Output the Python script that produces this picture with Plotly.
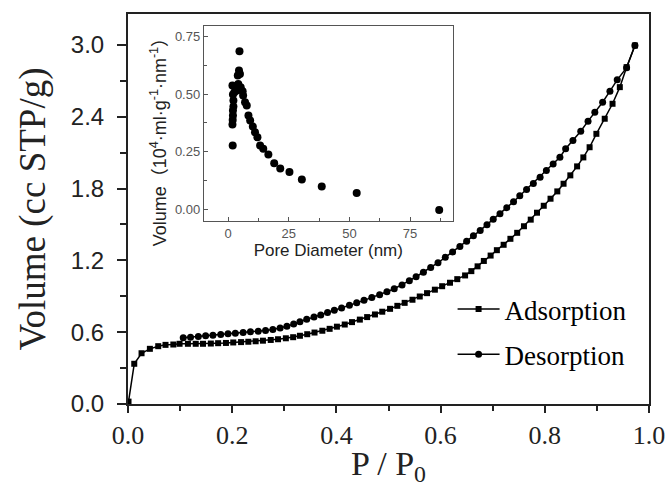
import plotly.graph_objects as go

# ---- main isotherm data (P/P0, volume cc STP/g) ----
ads_x = [0.001, 0.012, 0.026, 0.042, 0.058, 0.072, 0.087, 0.099, 0.115, 0.130, 0.144, 0.159,
         0.173, 0.188, 0.202, 0.217, 0.231, 0.245, 0.259, 0.274, 0.288, 0.303, 0.317, 0.330,
         0.344, 0.358, 0.373, 0.387, 0.401, 0.416, 0.430, 0.445, 0.459, 0.474, 0.488, 0.503,
         0.517, 0.531, 0.546, 0.560, 0.574, 0.589, 0.603, 0.618, 0.632, 0.647, 0.659, 0.671,
         0.683, 0.696, 0.708, 0.721, 0.734, 0.747, 0.760, 0.773, 0.785, 0.798, 0.811, 0.824,
         0.836, 0.849, 0.862, 0.874, 0.886, 0.899, 0.915, 0.930, 0.944, 0.957, 0.973]
ads_y = [0.02, 0.336, 0.424, 0.461, 0.483, 0.494, 0.497, 0.503, 0.503, 0.503, 0.503, 0.505,
         0.508, 0.510, 0.514, 0.517, 0.520, 0.524, 0.529, 0.535, 0.541, 0.549, 0.558, 0.570,
         0.583, 0.597, 0.612, 0.628, 0.646, 0.664, 0.684, 0.705, 0.726, 0.748, 0.771, 0.795,
         0.820, 0.845, 0.871, 0.898, 0.926, 0.955, 0.984, 1.013, 1.043, 1.074, 1.110, 1.150,
         1.195, 1.240, 1.285, 1.330, 1.380, 1.430, 1.485, 1.540, 1.598, 1.656, 1.715, 1.776,
         1.840, 1.910, 1.985, 2.060, 2.145, 2.257, 2.383, 2.508, 2.647, 2.814, 2.995]

des_x = [0.106, 0.120, 0.135, 0.149, 0.163, 0.178, 0.192, 0.206, 0.221, 0.235, 0.250, 0.264,
         0.278, 0.292, 0.305, 0.318, 0.330, 0.343, 0.357, 0.370, 0.383, 0.396, 0.410, 0.425,
         0.439, 0.453, 0.468, 0.483, 0.497, 0.511, 0.526, 0.540, 0.553, 0.567, 0.581, 0.595,
         0.609, 0.623, 0.637, 0.650, 0.663, 0.676, 0.689, 0.701, 0.714, 0.727, 0.740, 0.752,
         0.765, 0.778, 0.791, 0.803, 0.816, 0.829, 0.840, 0.854, 0.869, 0.883, 0.896, 0.911,
         0.925, 0.939, 0.957, 0.973]
des_y = [0.553, 0.558, 0.564, 0.570, 0.575, 0.581, 0.586, 0.592, 0.597, 0.603, 0.608, 0.614,
         0.623, 0.635, 0.650, 0.668, 0.688, 0.707, 0.726, 0.744, 0.764, 0.783, 0.803, 0.824,
         0.845, 0.866, 0.889, 0.913, 0.938, 0.963, 0.995, 1.030, 1.063, 1.100, 1.140, 1.180,
         1.225, 1.270, 1.315, 1.360, 1.405, 1.450, 1.497, 1.543, 1.590, 1.640, 1.690, 1.740,
         1.791, 1.842, 1.895, 1.950, 2.005, 2.062, 2.132, 2.201, 2.279, 2.363, 2.438, 2.521,
         2.613, 2.708, 2.809, 2.995]

# ---- inset pore size distribution ----
pore_d = [1.9, 1.8, 1.9, 2.0, 2.0, 2.2, 2.2, 2.0, 1.8, 2.6, 3.6, 4.2, 4.0, 4.5, 4.9, 4.7,
          5.2, 6.0, 6.2, 7.0, 7.7, 8.4, 9.1, 10.2, 11.1, 12.1, 13.2, 14.5, 16.6, 19.0, 21.5,
          25.3, 30.4, 38.6, 53.0, 87.0]
pore_v = [0.277, 0.368, 0.388, 0.407, 0.429, 0.446, 0.472, 0.498, 0.537, 0.508, 0.515, 0.544,
          0.580, 0.602, 0.587, 0.685, 0.529, 0.512, 0.494, 0.465, 0.450, 0.407, 0.385, 0.359,
          0.335, 0.313, 0.277, 0.263, 0.238, 0.200, 0.178, 0.162, 0.130, 0.100, 0.071, -0.002]

main_yticks = [0.0, 0.6, 1.2, 1.8, 2.4, 3.0]
main_xticks = [0.0, 0.2, 0.4, 0.6, 0.8, 1.0]
inset_xticks = [0, 25, 50, 75]
inset_yticks = [0.0, 0.25, 0.50, 0.75]

serif = "Liberation Serif, Times New Roman, serif"
sans = "Liberation Sans, Arial, Noto Sans CJK SC, sans-serif"

fig = go.Figure()
fig.add_trace(go.Scatter(x=ads_x, y=ads_y, mode="lines+markers", name="Adsorption",
                         legendgroup="a",
                         line=dict(color="black", width=1.5),
                         marker=dict(symbol="square", size=6, color="black")))
fig.add_trace(go.Scatter(x=des_x, y=des_y, mode="lines+markers", name="Desorption",
                         legendgroup="d",
                         line=dict(color="black", width=1.5),
                         marker=dict(symbol="circle", size=7, color="black")))
fig.add_trace(go.Scatter(x=pore_d, y=pore_v, mode="markers", showlegend=False,
                         xaxis="x2", yaxis="y2",
                         marker=dict(symbol="circle", size=8, color="black")))

fig.update_layout(
    width=669, height=487,
    margin=dict(l=128, r=20, t=14, b=83),
    paper_bgcolor="white", plot_bgcolor="white",
    showlegend=True,
    legend=dict(x=0.623, y=0.305, xanchor="left", yanchor="top",
                font=dict(family=serif, size=27, color="black"),
                bgcolor="rgba(0,0,0,0)", tracegroupgap=7, itemwidth=42),
    xaxis=dict(range=[0, 1.0], tickvals=main_xticks, tickformat=".1f", automargin=False,
               ticks="outside", ticklen=7, tickwidth=1.5, tickcolor="#222",
               minor=dict(dtick=0.1, ticks="outside", ticklen=5, tickcolor="#222"),
               showline=True, linecolor="#222", linewidth=2, mirror=True,
               showgrid=False, zeroline=False,
               tickfont=dict(family=serif, size=26, color="#222"),
               ticklabelstandoff=0,
               title=dict(text="P / P<sub>0</sub>", font=dict(family=serif, size=34, color="#222"),
                          standoff=0)),
    yaxis=dict(range=[0, 3.258], tickvals=main_yticks, tickformat=".1f", automargin=False,
               ticks="outside", ticklen=9, tickwidth=1.5, tickcolor="#222",
               minor=dict(dtick=0.3, ticks="outside", ticklen=6, tickcolor="#222"),
               showline=True, linecolor="#222", linewidth=2, mirror=True,
               showgrid=False, zeroline=False,
               tickfont=dict(family=sans, size=24, color="#222"),
               ticklabelstandoff=8,
               title=dict(text="Volume (cc STP/g)", font=dict(family=serif, size=37, color="#222"),
                          standoff=14)),
    xaxis2=dict(domain=[0.1455, 0.6234], anchor="y2", range=[-10, 92.6], automargin=False,
                tickvals=inset_xticks, ticks="inside", ticklen=4, tickcolor="#555",
                minor=dict(dtick=12.5, ticks="inside", ticklen=3, tickcolor="#555"),
                showline=True, linecolor="#555", linewidth=1, mirror=True,
                showgrid=False, zeroline=False,
                tickfont=dict(family=sans, size=13, color="#555"),
                title=dict(text="Pore Diameter (nm)", font=dict(family=sans, size=17, color="#222"),
                           standoff=4)),
    yaxis2=dict(domain=[0.468, 0.9705], anchor="x2", range=[-0.052, 0.797], automargin=False,
                tickvals=inset_yticks, tickformat=".2f", ticks="inside", ticklen=4, tickcolor="#555",
                minor=dict(dtick=0.125, ticks="inside", ticklen=3, tickcolor="#555"),
                showline=True, linecolor="#555", linewidth=1, mirror=True,
                showgrid=False, zeroline=False,
                tickfont=dict(family=sans, size=13, color="#555")),
    annotations=[dict(text="Volume（10<sup>4</sup>·ml·g<sup>-1</sup>·nm<sup>-1</sup>）",
                      xref="paper", yref="paper", x=0.059, y=0.683,
                      xanchor="center", yanchor="middle", textangle=-90, showarrow=False,
                      font=dict(family=sans, size=18, color="#222"))],
)

fig.write_html("out.html", config={"displayModeBar": False},
               post_script="document.body.style.margin='0';document.body.style.overflow='hidden';")
